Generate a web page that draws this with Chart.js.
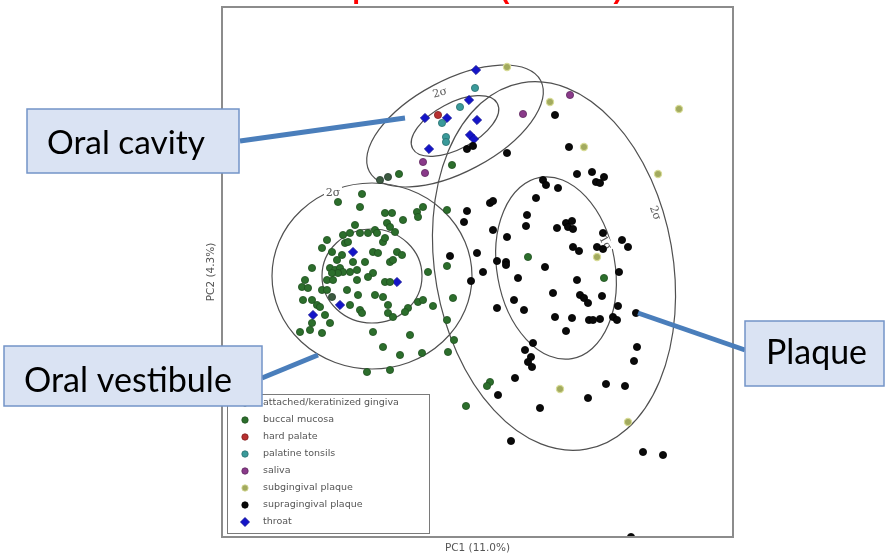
<!DOCTYPE html>
<html><head><meta charset="utf-8">
<script src="https://cdn.jsdelivr.net/npm/chart.js@4/dist/chart.umd.min.js"></script>
<style>html,body{margin:0;padding:0;background:#fff;}#wrap{width:885px;height:554px;}</style>
</head><body><div id="wrap"><canvas id="c" width="885" height="554"></canvas></div>
<script>
// ---- data (PC1, PC2 scores, arbitrary units) ----
const categories = ["attached/keratinized gingiva","buccal mucosa","hard palate","palatine tonsils","saliva","subgingival plaque","supragingival plaque","throat"];

const attachedGingiva = [[-92,93],[-100,90],[-148,-27]];
const buccalMucosa = [[-118,76],[-81,96],[-28,105],[-33,60],[48,13],[-33,4],[124,-8],[-27,-28],[-33,-50],[-26,-70],[-32,-82],[10,-112],[7,-116],[-14,-136],
[-142,68],[-120,63],[-95,57],[-88,57],[-63,58],[-57,63],[-62,53],[-77,50],[-93,47],[-90,43],[-125,45],[-105,40],[-103,37],[-112,37],[-130,37],[-137,35],[-120,37],[-85,38],
[-153,30],[-135,27],[-132,28],[-97,28],[-95,32],[-158,22],[-148,18],[-107,18],[-102,17],[-138,15],[-83,18],[-78,15],[-90,8],[-87,10],[-127,8],[-115,8],[-143,10],
[-168,2],[-150,2],[-145,0],[-140,2],[-137,-2],[-142,-3],[-148,-3],[-123,0],[-107,-3],[-112,-7],[-130,-2],[-52,-2],[-175,-10],[-153,-10],[-147,-10],[-123,-10],[-95,-12],[-90,-12],
[-178,-17],[-172,-18],[-158,-20],[-153,-20],[-133,-20],[-122,-25],[-105,-25],[-97,-27],[-177,-30],[-168,-30],[-163,-35],[-160,-37],[-130,-35],[-120,-40],[-118,-43],[-92,-35],
[-62,-32],[-57,-30],[-72,-38],[-75,-42],[-47,-36],[-155,-45],[-150,-53],[-168,-53],[-92,-43],[-87,-47],[-180,-62],[-170,-60],[-158,-63],[-107,-62],[-70,-65],[-97,-77],[-80,-85],[-58,-83],[-113,-102],[-90,-100]];
const hardPalate = [[-42,155]];
const palatineTonsils = [[-5,182],[-20,163],[-38,147],[-34,133],[-34,128]];
const saliva = [[-57,108],[-55,97],[43,156],[90,175]];
const subgingivalPlaque = [[27,203],[70,168],[104,123],[178,96],[199,161],[117,13],[80,-119],[148,-152]];
const supragingivalPlaque = [[75,155],[-13,121],[-7,124],[27,117],[89,123],[97,96],[112,98],[116,88],[120,87],[124,93],[63,90],[66,85],[78,82],[56,72],[10,67],[13,69],[-13,59],[-16,48],
[47,55],[46,44],[13,40],[77,42],[86,47],[88,43],[92,49],[93,41],[27,33],[123,37],[142,30],[148,23],[93,23],[99,19],[117,23],[123,21],[-30,14],[-3,17],[17,9],[26,8],[26,5],[3,-2],
[65,3],[139,-2],[-9,-11],[38,-8],[97,-10],[73,-23],[100,-25],[104,-28],[108,-33],[122,-26],[34,-30],[17,-38],[44,-40],[75,-47],[92,-48],[109,-50],[113,-50],[120,-49],[133,-47],
[137,-50],[138,-36],[156,-43],[86,-61],[53,-73],[45,-80],[51,-87],[48,-92],[52,-97],[157,-77],[154,-91],[35,-108],[18,-125],[126,-114],[145,-116],[108,-128],[60,-138],[31,-171],
[163,-182],[183,-185],[151,-267]];
const throat = [[-4,200],[-11,170],[-55,152],[-33,152],[-3,150],[-10,135],[-6,131],[-51,121],[-127,18],[-83,-12],[-140,-35],[-167,-45]];

// confidence ellipses: centre, semi-axes, angle (deg)
const ellipseCx = [-25,-25,-108,-108,74,76];
const ellipseCy = [144,144,-6,-6,4,2];
const ellipseA  = [97,48,100,50,186,92];
const ellipseB  = [46,23,93,47,119,59];
const ellipseAngle = [28,28,0,0,100,100];
const sigmaLabels = ["2\u03C3","2\u03C3","2\u03C3","1\u03C3"];
const sigmaLabelX = [-40,-147,175,125];
const sigmaLabelY = [177,77,57,27];
const sigmaLabelRot = [-15,0,70,60];

const axisTitleX = "PC1 (11.0%)";
const axisTitleY = "PC2 (4.3%)";
const calloutTexts = ["Oral cavity","Oral vestibule","Plaque"];
const titleText = "Oral samples PCoA (UniFrac)";

const seriesData = [attachedGingiva,buccalMucosa,hardPalate,palatineTonsils,saliva,subgingivalPlaque,supragingivalPlaque,throat];
const fillColors = ['#3b5a40','#2c6e2c','#b83030','#3a9a9a','#8a3a8a','#a2aa5e','#0a0a0a','#1414c8'];
const edgeColors = ['#2a4030','#1f501f','#802020','#2a7070','#602860','#d8dc98','#000000','#0a0a90'];

const datasets = categories.map((c,i)=>({
  label:c,
  data:seriesData[i].map(p=>({x:p[0],y:p[1]})),
  backgroundColor:fillColors[i],
  borderColor:edgeColors[i],
  borderWidth:i===5?1.2:0.8,
  pointStyle:i===7?'rectRot':'circle',
  pointRadius:i===7?4.6:3.6,
  pointHoverRadius:i===7?4.6:3.6
}));

const overlay = {
  id:'overlay',
  beforeDatasetsDraw(chart){
    const {ctx, chartArea:a, scales:{x,y}} = chart;
    const s = Math.abs(x.getPixelForValue(1)-x.getPixelForValue(0));
    ctx.save();
    ctx.beginPath(); ctx.rect(a.left,a.top,a.right-a.left,a.bottom-a.top); ctx.clip();
    ctx.strokeStyle='#505050'; ctx.lineWidth=1.2;
    for(let i=0;i<ellipseCx.length;i++){
      ctx.beginPath();
      ctx.ellipse(x.getPixelForValue(ellipseCx[i]), y.getPixelForValue(ellipseCy[i]), ellipseA[i]*s, ellipseB[i]*s, -ellipseAngle[i]*Math.PI/180, 0, Math.PI*2);
      ctx.stroke();
    }
    ctx.font='11px "DejaVu Serif"';
    ctx.textAlign='center'; ctx.textBaseline='middle';
    for(let i=0;i<sigmaLabels.length;i++){
      ctx.save();
      ctx.translate(x.getPixelForValue(sigmaLabelX[i]), y.getPixelForValue(sigmaLabelY[i]));
      ctx.rotate(sigmaLabelRot[i]*Math.PI/180);
      ctx.fillStyle='#fff'; ctx.fillRect(-9,-6,18,12);
      ctx.fillStyle='#555'; ctx.fillText(sigmaLabels[i],0,0);
      ctx.restore();
    }
    ctx.restore();
  },
  afterDraw(chart){
    const {ctx, chartArea:a} = chart;
    ctx.save();
    // frame
    ctx.strokeStyle='#8c8c8c'; ctx.lineWidth=2;
    ctx.strokeRect(a.left,a.top,a.right-a.left,a.bottom-a.top);
    // axis titles
    ctx.fillStyle='#555'; ctx.font='10.5px "DejaVu Sans"'; ctx.textAlign='center'; ctx.textBaseline='middle';
    ctx.fillText(axisTitleX,(a.left+a.right)/2,a.bottom+11);
    ctx.save(); ctx.translate(a.left-11,(a.top+a.bottom)/2); ctx.rotate(-Math.PI/2); ctx.fillText(axisTitleY,0,0); ctx.restore();
    // legend
    const lx=a.left+5, ly=a.bottom-143, lw=202, lh=139;
    ctx.fillStyle='#fff'; ctx.fillRect(lx,ly,lw,lh);
    ctx.strokeStyle='#7a7a7a'; ctx.lineWidth=1; ctx.strokeRect(lx+0.5,ly+0.5,lw,lh);
    ctx.font='9.5px "DejaVu Sans"'; ctx.textAlign='left'; ctx.textBaseline='middle';
    categories.forEach((c,i)=>{
      const yy=ly+9+i*17, mx=lx+18;
      ctx.fillStyle=fillColors[i]; ctx.strokeStyle=edgeColors[i]; ctx.lineWidth=0.8;
      ctx.beginPath();
      if(i===7){ctx.moveTo(mx,yy-4.5);ctx.lineTo(mx+4.5,yy);ctx.lineTo(mx,yy+4.5);ctx.lineTo(mx-4.5,yy);ctx.closePath();}
      else ctx.arc(mx,yy,3.2,0,Math.PI*2);
      ctx.fill(); ctx.stroke();
      ctx.fillStyle='#555'; ctx.fillText(c,lx+36,yy);
    });
    // callouts
    ctx.strokeStyle='#4a7ebb'; ctx.lineWidth=5; ctx.lineCap='butt';
    [[240,141,405,118],[262,378,318,355],[745,350,638,313]].forEach(l=>{ctx.beginPath();ctx.moveTo(l[0],l[1]);ctx.lineTo(l[2],l[3]);ctx.stroke();});
    const boxes=[[27,109,212,64,47,154,158],[4,346,258,60,24,392,208],[745,321,139,65,766,364,101]];
    boxes.forEach((b,i)=>{
      ctx.fillStyle='#dae3f3'; ctx.fillRect(b[0],b[1],b[2],b[3]);
      ctx.strokeStyle='#7394c8'; ctx.lineWidth=1.5; ctx.strokeRect(b[0],b[1],b[2],b[3]);
      ctx.font='30px Lato'; const w=ctx.measureText(calloutTexts[i]).width;
      const fs=30*b[6]/w;
      ctx.font=fs.toFixed(2)+'px Lato'; ctx.fillStyle='#000'; ctx.textAlign='left'; ctx.textBaseline='alphabetic';
      ctx.fillText(calloutTexts[i],b[4],b[5]);
    });
    // title (clipped at top of the image)
    ctx.font='bold 28px "Liberation Sans"'; ctx.fillStyle='#f00'; ctx.textAlign='left'; ctx.textBaseline='alphabetic';
    const pre=ctx.measureText(titleText.slice(0,titleText.indexOf('('))).width;
    ctx.fillText(titleText,500-pre,-2);
    ctx.restore();
  }
};

new Chart(document.getElementById('c'),{
  type:'scatter',
  data:{datasets},
  options:{
    responsive:false, animation:false, devicePixelRatio:1,
    layout:{padding:{left:222,right:152,top:7,bottom:17}},
    scales:{
      x:{type:'linear',min:-258,max:253,display:false},
      y:{type:'linear',min:-267,max:263,display:false}
    },
    plugins:{legend:{display:false},tooltip:{enabled:false}}
  },
  plugins:[overlay]
});
</script></body></html>
